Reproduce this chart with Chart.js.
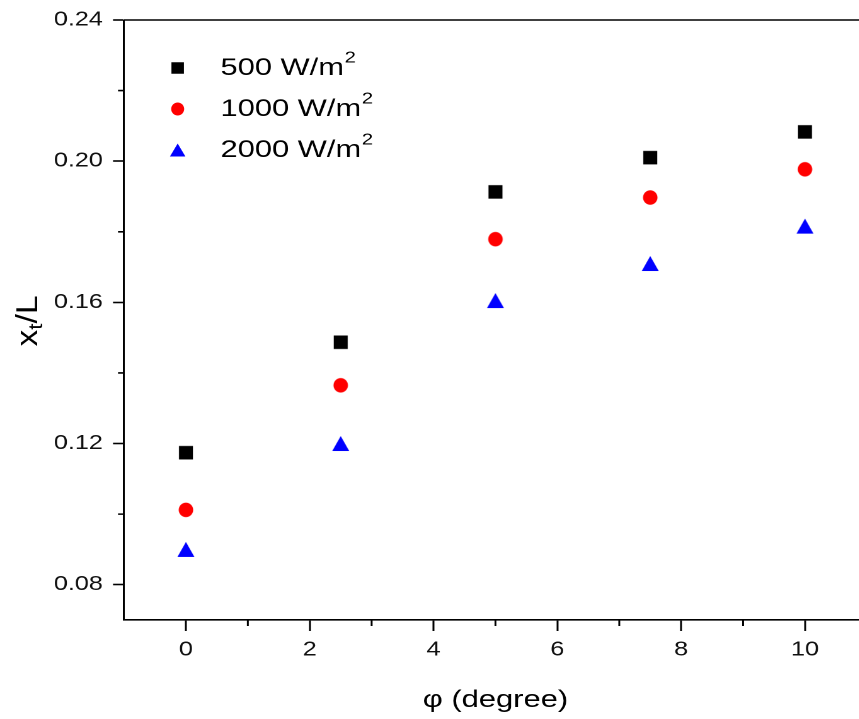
<!DOCTYPE html>
<html>
<head>
<meta charset="utf-8">
<script src="https://cdn.jsdelivr.net/npm/chart.js@4.4.1/dist/chart.umd.min.js"></script>
<style>
  html, body { margin: 0; padding: 0; background: #fff; overflow: hidden; width: 859px; height: 719px; }
  /* the reference text is horizontally stretched; draw narrow and stretch */
  #wrap { width: 714px; height: 719px; transform: scaleX(1.26); transform-origin: 0 0; }
</style>
</head>
<body>
<div id="wrap"><canvas id="c"></canvas></div>
<script>
const phi = [0, 2.5, 5, 7.5, 10];
const s500 = [0.1174, 0.1487, 0.1913, 0.2010, 0.2083];
const s1000 = [0.1012, 0.1365, 0.1779, 0.1897, 0.1977];
const s2000 = [0.0900, 0.1200, 0.1605, 0.1710, 0.1816];
const seriesNames = ['500', '1000', '2000'];
const xTicks = [0, 2, 4, 6, 8, 10];
const xMinor = [1, 3, 5, 7, 9, 11];
const yTicks = [0.08, 0.12, 0.16, 0.20, 0.24];
const yMinor = [0.10, 0.14, 0.18, 0.22];

const K = 1.26;
const FONT = 'Arial, "Liberation Sans", sans-serif';

function pts(ys) {
  return phi.map((x, i) => ({ x: x, y: ys[i] }));
}

// marker images, pre-squeezed so they look right after the stretch
function marker(shape, color, w, h) {
  const S = 4;
  const c = document.createElement('canvas');
  const cw = Math.ceil(w) + 2, ch = Math.ceil(h) + 2;
  c.width = cw * S;
  c.height = ch * S;
  const g = c.getContext('2d');
  g.scale(S, S);
  g.fillStyle = color;
  const cx = cw / 2, cy = ch / 2;
  g.beginPath();
  if (shape === 'rect') {
    g.rect(cx - w / 2, cy - h / 2, w, h);
  } else if (shape === 'circle') {
    g.ellipse(cx, cy, w / 2, h / 2, 0, 0, Math.PI * 2);
  } else {
    g.moveTo(cx, cy - h / 2);
    g.lineTo(cx + w / 2, cy + h / 2);
    g.lineTo(cx - w / 2, cy + h / 2);
    g.closePath();
  }
  g.fill();
  return new Promise(res => {
    const img = new Image();
    img.onload = () => res(img);
    img.width = cw;
    img.height = ch;
    img.src = c.toDataURL();
  });
}

Promise.all([
  marker('rect', '#000000', 14 / K, 13.5),
  marker('circle', '#ff0000', 14.5 / K, 14.5),
  marker('triangle', '#0000ff', 17 / K, 15),
  marker('rect', '#000000', 12.5 / K, 11.5),
  marker('circle', '#ff0000', 13 / K, 13),
  marker('triangle', '#0000ff', 15.5 / K, 13),
]).then(imgs => draw(imgs.slice(0, 3), imgs.slice(3)));

function draw(markers, legendMarkers) {
  const frame = {
    id: 'frame',
    afterDraw(chart) {
      const ctx = chart.ctx;
      const a = chart.chartArea;
      const xs = chart.scales.x, ys = chart.scales.y;
      ctx.save();
      ctx.strokeStyle = '#000';
      ctx.lineWidth = 1.6;
      ctx.beginPath();
      ctx.moveTo(a.left, a.top);
      ctx.lineTo(a.right, a.top);
      ctx.stroke();
      ctx.lineWidth = 1.5;
      ctx.beginPath();
      xMinor.forEach(v => {
        const p = xs.getPixelForValue(v);
        ctx.moveTo(p, a.bottom);
        ctx.lineTo(p, a.bottom + 6);
      });
      ctx.stroke();
      ctx.lineWidth = 1.6;
      ctx.beginPath();
      yMinor.forEach(v => {
        const p = ys.getPixelForValue(v);
        ctx.moveTo(a.left, p);
        ctx.lineTo(a.left - 6 / K, p);
      });
      ctx.stroke();

      // y axis title: x_t/L
      ctx.fillStyle = '#000';
      ctx.translate(23, (a.top + a.bottom) / 2 + 1);
      ctx.rotate(-Math.PI / 2);
      ctx.scale(1.4, 1);
      ctx.textBaseline = 'middle';
      ctx.textAlign = 'left';
      ctx.font = '24px ' + FONT;
      const w1 = ctx.measureText('x').width;
      ctx.font = '16px ' + FONT;
      const w2 = ctx.measureText('t').width;
      ctx.font = '24px ' + FONT;
      const w3 = ctx.measureText('/L').width;
      const x0 = -(w1 + w2 + w3) / 2;
      ctx.fillText('x', x0, 0);
      ctx.font = '16px ' + FONT;
      ctx.fillText('t', x0 + w1, 6);
      ctx.font = '24px ' + FONT;
      ctx.fillText('/L', x0 + w1 + w2, 0);
      ctx.restore();

      // legend
      ctx.save();
      const rows = [68, 109, 150];
      seriesNames.forEach((name, i) => {
        const m = legendMarkers[i];
        ctx.drawImage(m, 141 - m.width / 2, rows[i] - m.height / 2, m.width, m.height);
        ctx.fillStyle = '#000';
        ctx.textBaseline = 'middle';
        ctx.textAlign = 'left';
        ctx.font = '24.5px ' + FONT;
        const txt = name + ' W/m';
        ctx.fillText(txt, 175, rows[i]);
        const tw = ctx.measureText(txt).width;
        ctx.font = '16px ' + FONT;
        ctx.fillText('2', 175 + tw + 0.5, rows[i] - 10);
      });
      ctx.restore();
    }
  };

  const datasets = [s500, s1000, s2000].map((ys, i) => ({
    label: seriesNames[i] + ' W/m²',
    data: pts(ys),
    showLine: false,
    pointStyle: markers[i],
    pointRadius: 8,
    pointHoverRadius: 8,
  }));

  new Chart(document.getElementById('c'), {
    type: 'scatter',
    data: { datasets: datasets },
    options: {
      responsive: true,
      maintainAspectRatio: false,
      animation: false,
      devicePixelRatio: 2,
      layout: { padding: { top: 20, right: 26, left: 0, bottom: 0 } },
      plugins: { legend: { display: false }, tooltip: { enabled: false } },
      scales: {
        x: {
          type: 'linear',
          min: -1,
          max: 11,
          afterBuildTicks: s => { s.ticks = xTicks.map(v => ({ value: v })); },
          afterFit: s => { s.height = 99; },
          border: { display: true, color: '#000', width: 1.6 },
          grid: { drawOnChartArea: false, drawTicks: true, tickLength: 11, tickColor: '#000', tickWidth: 1.5 },
          ticks: { color: '#111', font: { family: FONT, size: 20 }, padding: 7, maxRotation: 0 },
          title: { display: true, text: 'φ (degree)', color: '#000', font: { family: FONT, size: 24.5 }, padding: { top: 7 } },
        },
        y: {
          type: 'linear',
          min: 0.07,
          max: 0.24,
          afterBuildTicks: s => { s.ticks = yTicks.map(v => ({ value: v })); },
          afterFit: s => { s.width = 124 / K; },
          border: { display: true, color: '#000', width: 1.5 },
          grid: { drawOnChartArea: false, drawTicks: true, tickLength: 11 / K, tickColor: '#000', tickWidth: 1.6 },
          ticks: { color: '#111', font: { family: FONT, size: 20 }, padding: 8, callback: v => v.toFixed(2) },
        },
      },
    },
    plugins: [frame],
  });
}
</script>
</body>
</html>
